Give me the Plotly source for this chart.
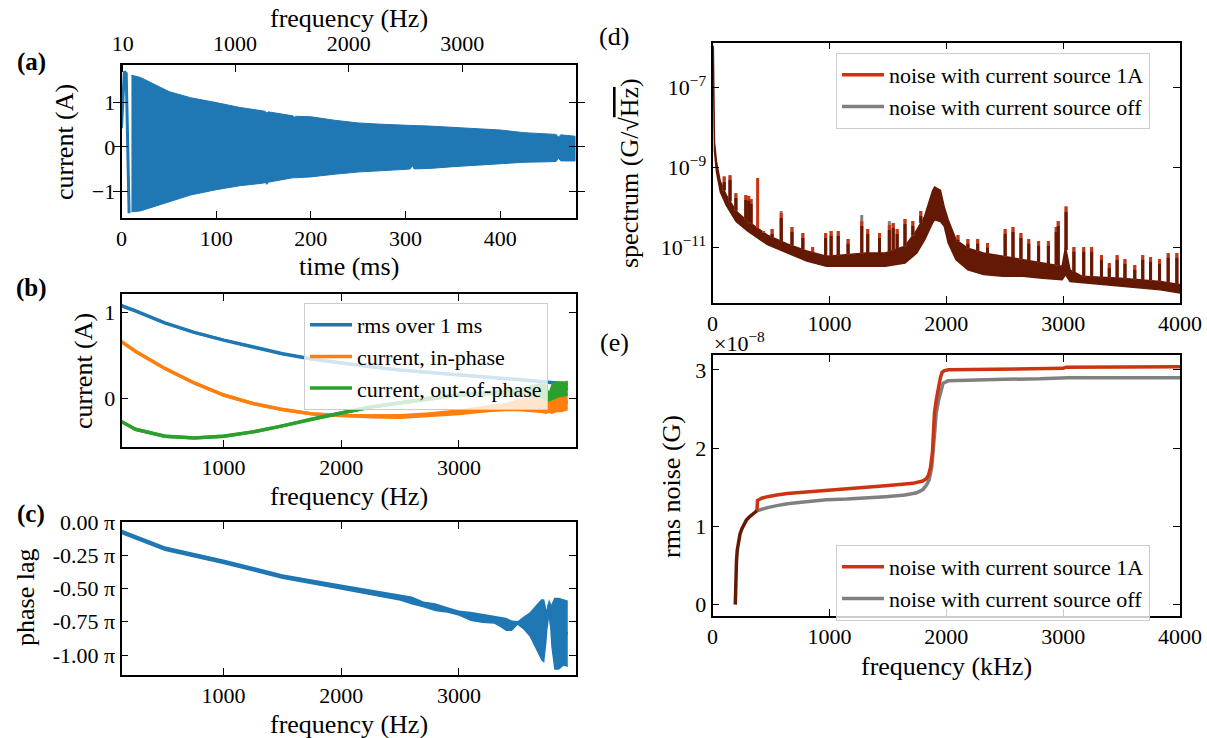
import numpy as np
import plotly.graph_objects as go

W, H = 1207, 738
FONT = "'Liberation Serif', 'DejaVu Serif', serif"
BLUE, ORANGE, GREEN = "#1f77b4", "#ff7f0e", "#2ca02c"
RED, GRAY, DARK = "#cc3311", "#808080", "#641905"

# ---------------- panel (a): chirp current vs time ----------------
a_cycle_t = [0, 1.5, 3, 5, 8, 9.5]
a_cycle_v = [0.42, 1.1, 1.70, 1.66, -1.47, -1.47]
a_t = [10.5, 20, 50, 73, 100, 125, 150, 152, 153.5, 155, 181, 182.5, 184, 200, 225, 250,
       275, 300, 305, 307, 309, 325, 350, 375, 400, 425, 450, 459, 461.5, 464, 479]
a_upper = [1.62, 1.57, 1.25, 1.11, 1.0, 0.89, 0.81, 0.80, 0.76, 0.79, 0.70, 0.67, 0.69, 0.68, 0.60, 0.54,
           0.51, 0.48, 0.48, 0.48, 0.48, 0.47, 0.44, 0.42, 0.38, 0.32, 0.29, 0.28, 0.22, 0.27, 0.24]
a_lower = [-1.47, -1.45, -1.25, -1.09, -0.97, -0.88, -0.82, -0.81, -0.85, -0.80, -0.70, -0.70, -0.70, -0.68, -0.62, -0.57,
           -0.54, -0.51, -0.50, -0.42, -0.50, -0.49, -0.45, -0.41, -0.38, -0.35, -0.34, -0.33, -0.26, -0.32, -0.32]
a_time_ticks = [0, 100, 200, 300, 400]
a_freq_ticks = [10, 1000, 2000, 3000]

# ---------------- panel (b): current components vs frequency ----------------
b_freq = [132, 250, 500, 750, 1000, 1250, 1500, 1750, 2000, 2250, 2500, 2750, 3000, 3250,
          3400, 3500, 3600, 3700, 3740, 3765, 3790, 3830, 3870, 3900, 3925]
b_rms = [1.08, 1.02, 0.88, 0.77, 0.68, 0.60, 0.52, 0.46, 0.41, 0.37, 0.33, 0.30, 0.27, 0.25,
         0.23, 0.22, 0.21, 0.20, 0.195, 0.19, 0.19, 0.18, 0.175, 0.17, 0.165]
b_rms_spread = [0.015] * 25
b_inphase = [0.66, 0.55, 0.35, 0.18, 0.04, -0.06, -0.13, -0.18, -0.20, -0.21, -0.21, -0.19, -0.16, -0.12,
             -0.10, -0.08, -0.07, -0.06, -0.06, -0.10, -0.06, -0.05, -0.06, -0.05, -0.04]
b_inphase_spread = [0.02, 0.02, 0.02, 0.02, 0.02, 0.02, 0.02, 0.02, 0.02, 0.025, 0.03, 0.03, 0.035, 0.04,
                    0.05, 0.07, 0.09, 0.11, 0.12, 0.07, 0.12, 0.11, 0.10, 0.10, 0.10]
b_outphase = [-0.27, -0.36, -0.44, -0.46, -0.44, -0.39, -0.32, -0.24, -0.17, -0.10, -0.05, 0.0, 0.04, 0.06,
              0.07, 0.07, 0.08, 0.09, 0.07, 0.02, 0.08, 0.10, 0.11, 0.11, 0.12]
b_outphase_spread = [0.02, 0.02, 0.02, 0.02, 0.02, 0.02, 0.02, 0.02, 0.02, 0.02, 0.02, 0.025, 0.025, 0.025,
                     0.035, 0.05, 0.07, 0.09, 0.10, 0.06, 0.10, 0.10, 0.09, 0.09, 0.09]
bc_freq_ticks = [1000, 2000, 3000]

# ---------------- panel (c): phase lag (units of pi) ----------------
c_freq = [132, 500, 1000, 1500, 2000, 2500, 2600, 2700, 2800, 2900, 3000, 3100, 3200, 3300, 3350, 3400, 3450,
          3500, 3550, 3600, 3650, 3700, 3725, 3745, 3765, 3785, 3810, 3850, 3890, 3925]
c_phase = [-0.075, -0.20, -0.30, -0.41, -0.49, -0.57, -0.59, -0.62, -0.64, -0.66, -0.685, -0.71, -0.725, -0.735,
           -0.75, -0.77, -0.78, -0.76, -0.76, -0.77, -0.79, -0.81, -0.82, -0.78, -0.62, -0.78, -0.84, -0.84, -0.83, -0.84]
c_spread = [0.018, 0.018, 0.018, 0.018, 0.02, 0.022, 0.03, 0.022, 0.03, 0.022, 0.02, 0.035, 0.035, 0.03,
            0.04, 0.05, 0.04, 0.015, 0.05, 0.09, 0.16, 0.23, 0.24, 0.12, 0.04, 0.16, 0.27, 0.27, 0.25, 0.25]
c_ticks = [0.0, -0.25, -0.5, -0.75, -1.0]
c_ticktext = ["0.00 π", "-0.25 π", "-0.50 π", "-0.75 π", "-1.00 π"]

# ---------------- panel (d): noise spectrum (log10 of G/sqrt(Hz)) ----------------
d_freq = [0, 7, 17, 34, 67, 118, 202, 302, 470, 639, 807, 975, 1143, 1311, 1479, 1647, 1748, 1815,
          1882, 1900, 1950, 1983, 2017, 2084, 2185, 2319, 2487, 2655, 2823, 2992, 3020, 3059, 3160,
          3496, 3832, 4000]
d_lower = [-6.3, -6.3, -8.6, -9.12, -9.62, -9.96, -10.36, -10.6, -10.94, -11.15, -11.35, -11.48, -11.48, -11.48,
           -11.48, -11.4, -11.15, -10.82, -10.4, -10.32, -10.36, -10.48, -10.9, -11.32, -11.57, -11.69, -11.73,
           -11.73, -11.78, -11.82, -11.69, -11.86, -11.9, -11.98, -12.07, -12.15]
d_upper = [-5.95, -6.0, -8.38, -8.86, -9.36, -9.7, -10.1, -10.36, -10.7, -10.92, -11.1, -11.23, -11.19, -11.15,
           -11.15, -10.98, -10.57, -10.23, -9.6, -9.5, -9.58, -10.0, -10.32, -10.82, -11.03, -11.15, -11.23,
           -11.32, -11.4, -11.48, -11.0, -11.57, -11.73, -11.78, -11.86, -11.94]
d_spike_f = [100, 150, 200, 285, 310, 330, 386, 437, 510, 588, 680, 773, 857, 968, 1015, 1076, 1160,
             1277, 1328, 1429, 1513, 1546, 1580, 1647, 1714, 1782, 2100, 2185, 2269, 2353, 2504, 2571,
             2639, 2706, 2790, 2874, 2941, 2958, 3025, 3092, 3176, 3244, 3328, 3395, 3462, 3529, 3613,
             3681, 3748, 3825, 3899, 3973]
d_spike_red = [-9.23, -9.2, -9.65, -9.7, -9.72, -9.8, -9.27, -10.6, -10.55, -10.15, -10.5, -10.65, -11.0,
               -10.65, -10.6, -10.6, -10.8, -10.35, -10.55, -10.65, -10.45, -10.4, -10.55, -10.3, -10.35,
               -10.1, -10.7, -10.8, -10.8, -10.9, -10.55, -10.5, -10.65, -10.8, -10.85, -10.85, -10.5,
               -10.35, -9.98, -11.0, -11.0, -11.0, -11.2, -11.4, -11.2, -11.3, -11.45, -11.2, -11.25,
               -11.3, -11.15, -11.15]
d_spike_gray = [-9.25, -9.2, -9.65, -9.7, -9.72, -9.8, -10.6, -10.6, -10.55, -10.1, -10.5, -10.65, -11.0,
                -10.65, -10.6, -10.6, -10.8, -10.2, -10.55, -10.65, -10.35, -10.4, -10.55, -10.3, -10.35,
                -10.1, -10.7, -10.8, -10.8, -10.9, -10.55, -10.5, -10.65, -10.8, -10.85, -10.85, -10.5,
                -10.35, -10.0, -11.0, -11.0, -11.0, -11.2, -11.4, -11.2, -11.3, -11.45, -11.2, -11.25,
                -11.3, -11.15, -11.15]
d_xticks = [0, 1000, 2000, 3000, 4000]

# ---------------- panel (e): cumulative rms noise (x 1e-8 G) ----------------
e_common_f = [195, 197, 200, 205, 212, 222, 235, 252, 270, 290, 315, 340, 365, 380]
e_common_v = [0, 0.2, 0.38, 0.55, 0.7, 0.82, 0.9, 0.97, 1.03, 1.08, 1.12, 1.15, 1.18, 1.2]
e_red_f = [380, 385, 420, 470, 550, 640, 800, 975, 1150, 1311, 1479, 1600, 1714, 1798, 1830, 1849, 1865,
           1882, 1899, 1915, 1933, 1950, 1965, 1985, 2020, 2200, 2500, 2800, 3000, 3025, 3500, 4000]
e_red_v = [1.2, 1.33, 1.36, 1.38, 1.40, 1.42, 1.44, 1.46, 1.475, 1.49, 1.52, 1.535, 1.55, 1.58, 1.61, 1.66,
           1.75, 1.95, 2.45, 2.62, 2.79, 2.9, 2.97, 2.99, 3.0, 3.005, 3.01, 3.015, 3.02, 3.035, 3.035, 3.04]
e_gray_f = [380, 420, 470, 550, 640, 800, 975, 1150, 1311, 1479, 1647, 1748, 1800, 1832, 1855, 1876, 1890,
            1899, 1915, 1933, 1950, 1973, 2017, 2200, 2500, 2800, 3000, 3042, 3500, 4000]
e_gray_v = [1.2, 1.22, 1.24, 1.265, 1.29, 1.315, 1.34, 1.35, 1.36, 1.38, 1.40, 1.43, 1.47, 1.53, 1.6, 1.76,
            2.0, 2.23, 2.45, 2.6, 2.72, 2.83, 2.86, 2.87, 2.88, 2.885, 2.89, 2.90, 2.90, 2.90]
e_yticks = [0, 1, 2, 3]

LEG1 = "noise with current source 1A"
LEG2 = "noise with current source off"

# ---------------- figure ----------------
fig = go.Figure()


def band(x, c, s, color, xa, ya):
    lo = [ci - si for ci, si in zip(c, s)]
    hi = [ci + si for ci, si in zip(c, s)]
    fig.add_trace(go.Scatter(x=list(x) + list(x)[::-1], y=hi + lo[::-1], fill="toself", fillcolor=color,
                             mode="lines", line=dict(width=0, color=color), xaxis=xa, yaxis=ya,
                             showlegend=False, hoverinfo="skip"))


# (a)
fig.add_trace(go.Scatter(x=a_t + a_t[::-1], y=a_upper + a_lower[::-1], fill="toself", fillcolor=BLUE,
                         mode="lines", line=dict(width=1, color=BLUE), xaxis="x", yaxis="y",
                         showlegend=False, hoverinfo="skip"))
fig.add_trace(go.Scatter(x=a_cycle_t, y=a_cycle_v, mode="lines", line=dict(width=3, color=BLUE),
                         xaxis="x", yaxis="y", showlegend=False, hoverinfo="skip"))
fig.add_trace(go.Scatter(x=[a_freq_ticks[0], 4000], y=[0, 0], mode="markers", marker=dict(opacity=0),
                         xaxis="x2", yaxis="y", showlegend=False, hoverinfo="skip"))

# (b)
for vals, spr, col, name in [(b_rms, b_rms_spread, BLUE, "rms over 1 ms"),
                             (b_inphase, b_inphase_spread, ORANGE, "current, in-phase"),
                             (b_outphase, b_outphase_spread, GREEN, "current, out-of-phase")]:
    band(b_freq, vals, spr, col, "x3", "y3")
    fig.add_trace(go.Scatter(x=b_freq, y=vals, mode="lines", line=dict(width=3.5, color=col), name=name,
                             xaxis="x3", yaxis="y3", legend="legend", hoverinfo="skip"))

# (c)
band(c_freq, c_phase, c_spread, BLUE, "x4", "y4")
fig.add_trace(go.Scatter(x=c_freq, y=c_phase, mode="lines", line=dict(width=3, color=BLUE),
                         xaxis="x4", yaxis="y4", showlegend=False, hoverinfo="skip"))

# (d)
d_lo_lin = [10 ** v for v in d_lower]
d_hi_lin = [10 ** v for v in d_upper]
fig.add_trace(go.Scatter(x=d_freq + d_freq[::-1], y=d_hi_lin + d_lo_lin[::-1], fill="toself", fillcolor=DARK,
                         mode="lines", line=dict(width=1.5, color=DARK), xaxis="x5", yaxis="y5",
                         showlegend=False, hoverinfo="skip"))


def spikes(peaks, offset=0.0):
    xs, ys = [], []
    base = np.interp(d_spike_f, d_freq, d_upper)
    for f, b, p in zip(d_spike_f, base, peaks):
        top = p - offset
        if top > b:
            xs += [f, f, None]
            ys += [10 ** b, 10 ** top, None]
    return xs, ys


gx, gy = spikes(d_spike_gray)
rx, ry = spikes(d_spike_red)
dx, dy = spikes([min(r, g) for r, g in zip(d_spike_red, d_spike_gray)], 0.12)
for xs, ys, col in [(gx, gy, GRAY), (rx, ry, RED), (dx, dy, DARK)]:
    fig.add_trace(go.Scatter(x=xs, y=ys, mode="lines", line=dict(width=3, color=col), xaxis="x5", yaxis="y5",
                             showlegend=False, hoverinfo="skip"))
fig.add_trace(go.Scatter(x=[None], y=[None], mode="lines", line=dict(width=3.5, color=RED), name=LEG1,
                         xaxis="x5", yaxis="y5", legend="legend2"))
fig.add_trace(go.Scatter(x=[None], y=[None], mode="lines", line=dict(width=3.5, color=GRAY), name=LEG2,
                         xaxis="x5", yaxis="y5", legend="legend2"))

# (e)
fig.add_trace(go.Scatter(x=e_gray_f, y=e_gray_v, mode="lines", line=dict(width=3.5, color=GRAY),
                         xaxis="x6", yaxis="y6", showlegend=False, hoverinfo="skip"))
fig.add_trace(go.Scatter(x=e_red_f, y=e_red_v, mode="lines", line=dict(width=3.5, color=RED),
                         xaxis="x6", yaxis="y6", showlegend=False, hoverinfo="skip"))
fig.add_trace(go.Scatter(x=e_common_f, y=e_common_v, mode="lines", line=dict(width=3.5, color=DARK),
                         xaxis="x6", yaxis="y6", showlegend=False, hoverinfo="skip"))
fig.add_trace(go.Scatter(x=[None], y=[None], mode="lines", line=dict(width=3.5, color=RED), name=LEG1,
                         xaxis="x6", yaxis="y6", legend="legend3"))
fig.add_trace(go.Scatter(x=[None], y=[None], mode="lines", line=dict(width=3.5, color=GRAY), name=LEG2,
                         xaxis="x6", yaxis="y6", legend="legend3"))

TICKFONT = dict(family=FONT, size=22, color="black")


def ax(**kw):
    base = dict(showline=True, linecolor="black", linewidth=1.8, mirror="allticks", ticks="inside",
                ticklen=7, tickwidth=1.4, tickcolor="black", showgrid=False, zeroline=False,
                tickfont=TICKFONT, fixedrange=True, automargin=False)
    base.update(kw)
    return base


def px_x(a, b):
    return [a / W, b / W]


def px_y(top, bottom):
    return [1 - bottom / H, 1 - top / H]


XA = px_x(121.5, 576)
XD = px_x(712.5, 1180)
LEGSTYLE = dict(xanchor="left", yanchor="top", bgcolor="rgba(255,255,255,0.8)", bordercolor="#cccccc",
                borderwidth=1, itemwidth=42, font=dict(family=FONT, size=22, color="black"))

fig.update_layout(
    width=W, height=H, margin=dict(l=0, r=0, t=0, b=0, pad=0, autoexpand=False),
    paper_bgcolor="white", plot_bgcolor="white", hovermode=False,
    font=dict(family=FONT, size=22, color="black"),
    xaxis=ax(domain=XA, anchor="y", range=[0, 480], tickvals=a_time_ticks, mirror=True),
    xaxis2=ax(overlaying="x", side="top", anchor="y", range=[0, 4000], tickvals=a_freq_ticks,
              ticktext=[str(v) for v in a_freq_ticks], mirror=False, ticklabelstandoff=3),
    yaxis=ax(domain=px_y(65, 218), anchor="x", range=[-1.61, 1.85], tickvals=[-1, 0, 1],
             ticktext=["−1", "0", "1"]),
    xaxis3=ax(domain=XA, anchor="y3", range=[132, 3995], tickvals=bc_freq_ticks,
              ticktext=[str(v) for v in bc_freq_ticks]),
    yaxis3=ax(domain=px_y(294, 447), anchor="x3", range=[-0.566, 1.217], tickvals=[0, 1]),
    xaxis4=ax(domain=XA, anchor="y4", range=[132, 3995], tickvals=bc_freq_ticks,
              ticktext=[str(v) for v in bc_freq_ticks]),
    yaxis4=ax(domain=px_y(522, 675), anchor="x4", range=[-1.15, 0.0], tickvals=c_ticks, ticktext=c_ticktext),
    xaxis5=ax(domain=XD, anchor="y5", range=[0, 4000], tickvals=d_xticks,
              ticktext=[str(v) for v in d_xticks]),
    yaxis5=ax(domain=px_y(42.5, 303), anchor="x5", type="log", range=[-12.4, -5.88],
              tickvals=[1e-11, 1e-9, 1e-7], ticktext=["10<sup>−11</sup>", "10<sup>−9</sup>", "10<sup>−7</sup>"]),
    xaxis6=ax(domain=XD, anchor="y6", range=[0, 4000], tickvals=d_xticks,
              ticktext=[str(v) for v in d_xticks]),
    yaxis6=ax(domain=px_y(355, 616), anchor="x6", range=[-0.145, 3.19], tickvals=e_yticks),
    legend=dict(x=304 / W, y=1 - 303 / H, **LEGSTYLE),
    legend2=dict(x=836 / W, y=1 - 53 / H, **LEGSTYLE),
    legend3=dict(x=836 / W, y=1 - 545 / H, **LEGSTYLE),
)


def note(text, x, y, angle=0, size=26, bold=False, xanchor="center"):
    fig.add_annotation(text=("<b>%s</b>" % text) if bold else text, x=x / W, y=1 - y / H, xref="paper",
                       yref="paper", showarrow=False, textangle=angle, xanchor=xanchor, yanchor="middle",
                       font=dict(family=FONT, size=size, color="black"))


note("frequency (Hz)", 349, 18)
note("time (ms)", 349, 266)
note("frequency (Hz)", 349, 496)
note("frequency (Hz)", 349, 724)
note("frequency (kHz)", 946, 666)
note("current (A)", 64, 142, -90)
note("current (A)", 83, 371, -90)
note("phase lag", 25, 598, -90)
note("spectrum (G/√<span style='text-decoration:overline'>Hz</span>)", 629, 173, -90)
note("rms noise (G)", 671, 487, -90)
note("×10<sup>−8</sup>", 712, 342, size=22, xanchor="left")
note("(a)", 31, 62, bold=True, size=25)
note("(b)", 31, 288, bold=True, size=25)
note("(c)", 31, 514, bold=True, size=25)
note("(d)", 614, 36, size=26)
note("(e)", 614, 342, size=26)

fig.write_html("out.html")
